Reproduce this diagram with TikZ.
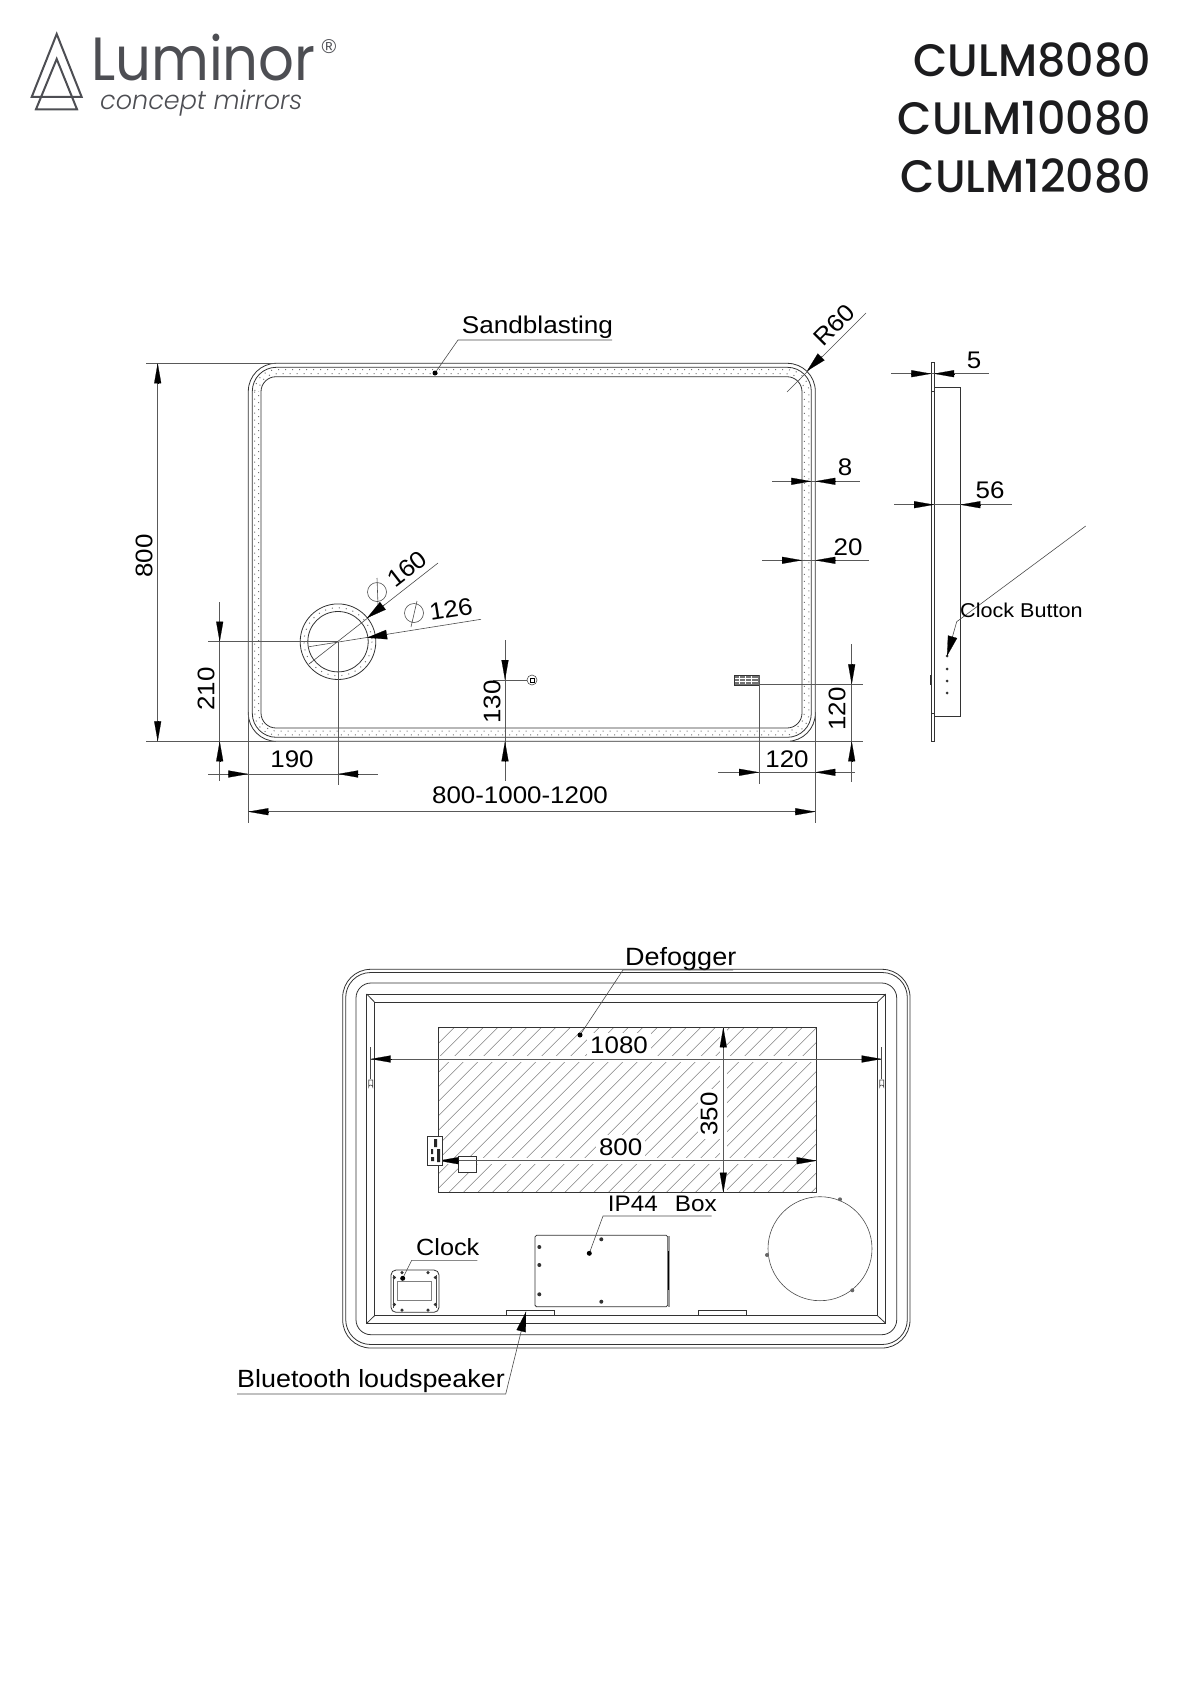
\documentclass[tikz,border=0pt]{standalone}
\usepackage{fontspec}
\setmainfont{Liberation Sans}
\newfontfamily\dimfont[FakeStretch=1.08]{Liberation Sans}
\newfontfamily\logofont[FakeStretch=0.92]{Poppins}
\newfontfamily\sublogofont[FakeStretch=0.98]{Poppins Light}
\newfontfamily\titlefont[FakeStretch=0.975]{Poppins Medium}
\usetikzlibrary{arrows.meta}
\definecolor{logogray}{HTML}{4D4E53}
\definecolor{titleblack}{HTML}{1C1C1E}
\tikzset{
  outline/.style={draw=black!80, line width=0.8pt},
  thinline/.style={draw=black!70, line width=0.6pt},
  dimline/.style={draw=black!65, line width=0.8pt},
  dimtip/.style={draw=black, line width=0.2pt, -{Triangle[length=20pt,width=7pt]}},
  leadtip/.style={draw=black, line width=0.2pt, -{Triangle[length=20pt,width=9.5pt]}},
  dimtext/.style={font=\dimfont\fontsize{24}{24}\selectfont, inner sep=0pt},
  calltext/.style={font=\dimfont\fontsize{#1}{#1}\selectfont, inner sep=0pt},
  sandband/.style={draw=black!55, line width=1pt, dash pattern=on 1pt off 6pt},
  hatchline/.style={draw=black!50, line width=0.6pt},
  screw/.style={circle, fill=black!80, minimum size=4pt, inner sep=0pt},
  calldot/.style={circle, fill=black, minimum size=5pt, inner sep=0pt},
  logotri/.style={draw=logogray, line width=2pt, line join=miter},
  titletext/.style={font=\titlefont\fontsize{45.5}{45.5}\selectfont, text=titleblack, anchor=base east, inner sep=0pt},
}
\begin{document}
\begin{tikzpicture}[x=1pt,y=-1pt]
\useasboundingbox (0,0) rectangle (1190,1683);

% logo
\draw[logotri] (56.7,34) -- (81.7,97) -- (31.7,97) -- cycle;
\draw[logotri] (56.7,59) -- (77,109.3) -- (36,109.3) -- cycle;
\node (logoname) [font=\logofont\fontsize{61}{61}\selectfont, text=logogray, anchor=base west, inner sep=0pt] at (91,81) {Luminor};
\node (logoreg) [font=\fontsize{20}{20}\selectfont, text=logogray, inner sep=0pt] at (329,46.7) {®};
\node (logosub) [font=\sublogofont\itshape\fontsize{26}{26}\selectfont, text=logogray, anchor=base west, inner sep=0pt] at (100,110) {concept mirrors};

% titles
\node (titlea) [titletext] at (1151,77) {CULM8080};
\node (titleb) [titletext] at (1151,134.5) {CULM10080};
\node (titlec) [titletext] at (1151,192.5) {CULM12080};

% front view
\draw[outline] (248.3,363.3) [rounded corners=28pt] rectangle (815.3,741.3);
\draw[outline] (252.3,367.3) [rounded corners=24pt] rectangle (811.3,737.3);
\draw[outline] (261,376.7) [rounded corners=15pt] rectangle (802,728);
\draw[sandband] (254.7,369.7) [rounded corners=22pt] rectangle (808.9,734.9);
\draw[sandband, dash phase=3.5pt] (258.7,373.7) [rounded corners=18pt] rectangle (804.3,731);
\draw[outline] (338,641.7) circle (37.8);
\draw[outline] (338,641.7) circle (30.2);
\draw[sandband] (338,641.7) circle (34);

% 800 height
\draw[dimline] (146,363.3) -- (276,363.3);
\draw[dimline] (146,741.3) -- (276,741.3);
\draw[dimline] (157.7,363.3) -- (157.7,741.3);
\draw[dimtip] (157.7,383.3) -- (157.7,363.3);
\draw[dimtip] (157.7,721.3) -- (157.7,741.3);
\node (lblheight) [dimtext, rotate=90] at (144,556) {800};

% 210
\draw[dimline] (208,641.7) -- (338,641.7);
\draw[dimline] (219.7,602) -- (219.7,781);
\draw[dimtip] (219.7,621.7) -- (219.7,641.7);
\draw[dimtip] (219.7,761.3) -- (219.7,741.3);
\node (lblcirc) [dimtext, rotate=90] at (206,689) {210};

% 190
\draw[dimline] (208,774) -- (378,774);
\draw[dimline] (338,641.7) -- (338,785);
\draw[dimtip] (228.3,774) -- (248.3,774);
\draw[dimtip] (358,774) -- (338,774);
\node (lblleft) [dimtext, anchor=base] at (292,767.7) {190};

% overall width
\draw[dimline] (248.3,712) -- (248.3,823);
\draw[dimline] (815.3,712) -- (815.3,823);
\draw[dimline] (248.3,811.7) -- (815.3,811.7);
\draw[dimtip] (268.3,811.7) -- (248.3,811.7);
\draw[dimtip] (795.3,811.7) -- (815.3,811.7);
\node (lblwidth) [dimtext, anchor=base] at (520,803) {800-1000-1200};

% circle leaders
\draw[thinline] (309,664) -- (438,563);
\draw[leadtip] (384.5,604.5) -- (367,618);
\draw[thinline] (377,578) -- (378,605) (377,592) circle (9.5);
\node (lblouter) [dimtext, rotate=38] at (407,569) {160};
\draw[thinline] (309,646.7) -- (481,619.3);
\draw[leadtip] (388,634.4) -- (367,637.7);
\draw[thinline] (417,601) -- (411,627) (414,613) circle (9.5);
\node (lblinner) [dimtext, rotate=9] at (451,609) {126};

% button
\draw[dimline] (493,680) -- (527,680);
\draw[thinline] (532,680) circle (5);
\draw[draw=black, line width=1pt] (530,678) rectangle (534,682);
\draw[dimline] (505,640) -- (505,781);
\draw[dimtip] (505,660) -- (505,680);
\draw[dimtip] (505,761.3) -- (505,741.3);
\node (lblbutton) [dimtext, rotate=90] at (492,702) {130};

% display
\draw[draw=black!80, fill=black!55, line width=0.6pt] (734,675) rectangle (759,685);
\foreach \gx in {739,745,751} {
  \draw[draw=white, line width=0.6pt] (\gx,676) -- (\gx,684);
}
\draw[draw=white, line width=0.6pt] (735,678.5) -- (758,678.5) (735,681.5) -- (758,681.5);
\draw[dimline] (759,684.3) -- (863,684.3);
\draw[dimline] (759,675) -- (759,784);
\draw[dimline] (790,741.3) -- (863,741.3);
\draw[dimline] (851.7,644) -- (851.7,781.7);
\draw[dimtip] (851.7,664.3) -- (851.7,684.3);
\draw[dimtip] (851.7,761.3) -- (851.7,741.3);
\node (lblvert) [dimtext, rotate=90] at (837,709) {120};
\draw[dimline] (718,772.3) -- (855,772.3);
\draw[dimtip] (739,772.3) -- (759,772.3);
\draw[dimtip] (835.3,772.3) -- (815.3,772.3);
\node (lblhoriz) [dimtext, anchor=base] at (787,767) {120};

% R60
\draw[thinline] (787,392) -- (866,313);
\draw[leadtip] (822,356) -- (807,371);
\node (lblradius) [dimtext, rotate=45] at (834,325) {R60};

% 8 and 20
\draw[dimline] (772,481.3) -- (860,481.3);
\draw[dimtip] (791.3,481.3) -- (811.3,481.3);
\draw[dimtip] (835.3,481.3) -- (815.3,481.3);
\node (lblglass) [dimtext] at (845,467) {8};
\draw[dimline] (762,560.3) -- (869,560.3);
\draw[dimtip] (782,560.3) -- (802,560.3);
\draw[dimtip] (835.3,560.3) -- (815.3,560.3);
\node (lblband) [dimtext] at (848,547) {20};

% sandblasting
\node (lblsand) [calltext=24.2, anchor=base west] at (461.7,333.3) {Sandblasting};
\coordinate (sandknee) at (458,340);
\node (sanddot) [calldot] at (435,373) {};
\draw[thinline] (612,340) -- (sandknee) -- (sanddot);

% side view
\draw[outline] (931.3,362.7) -- (931.3,741.7) -- (934,741.7) -- (934,362.7) -- cycle;
\draw[outline] (934,387.3) -- (960.3,387.3) -- (960.3,716.7) -- (934,716.7);
\draw[outline] (930,675) -- (930,685);
\draw[outline] (931.3,391.7) -- (934,391.7) (931.3,713) -- (934,713);
\draw[dimline] (891,373.7) -- (989,373.7);
\draw[dimtip] (911.3,373.7) -- (931.3,373.7);
\draw[dimtip] (954,373.7) -- (934,373.7);
\node (lblplate) [dimtext] at (974,360) {5};
\draw[dimline] (894,504.7) -- (1012,504.7);
\draw[dimtip] (914,504.7) -- (934,504.7);
\draw[dimtip] (980.3,504.7) -- (960.3,504.7);
\node (lbldepth) [dimtext] at (990,490.7) {56};
\foreach \by in {656,669,681,693} {
  \node (btn\by) [screw, minimum size=3pt] at (947,\by) {};
}
\coordinate (clockfree) at (1085.7,526);
\coordinate (clockknee) at (956.7,621.7);
\draw[thinline] (clockfree) -- (clockknee) -- (btn656);
\draw[leadtip] (952.5,637) -- (947,656);
\node (lblclockbtn) [calltext=20, anchor=base west] at (960,617) {Clock Button};

% back view
\draw[outline] (342.7,969.3) [rounded corners=28pt] rectangle (910,1348);
\draw[outline] (345.7,972.5) [rounded corners=25pt] rectangle (907.3,1344.5);
\draw[outline] (356,983) [rounded corners=15pt] rectangle (896.7,1334.7);
\draw[outline] (366.7,994) rectangle (885.7,1323.3);
\draw[outline] (374.7,1002.3) rectangle (877.3,1315.5);
\draw[outline] (366.7,994) -- (374.7,1002.3) (885.7,994) -- (877.3,1002.3);
\draw[outline] (366.7,1323.3) -- (374.7,1315.5) (885.7,1323.3) -- (877.3,1315.5);

% defogger hatching
\begin{scope}
  \clip (438.3,1027.3) rectangle (816.7,1192.7);
  \foreach \hx in {0,14.5,...,560} {
    \draw[hatchline] (\hx+260,1192.7) -- (\hx+425.4,1027.3);
  }
\end{scope}
\fill[white] (438.8,1056) rectangle (816.2,1062);
\fill[white] (438.8,1158) rectangle (816.2,1164);
\fill[white] (720,1028) rectangle (727,1192);
\draw[outline] (438.3,1027.3) rectangle (816.7,1192.7);

% hooks
\foreach \kx in {370.7,881.7} {
  \draw[thinline] (\kx,1047) -- (\kx,1079);
  \draw[thinline, fill=white] (\kx-2,1080) -- (\kx-2,1087) arc[start angle=180, end angle=360, radius=2] -- (\kx+2,1080) -- cycle;
}

% 1080
\draw[dimline] (370.7,1059) -- (881.7,1059);
\draw[dimtip] (391,1059) -- (370.7,1059);
\draw[dimtip] (861.7,1059) -- (881.7,1059);
\node (lblrail) [dimtext, anchor=base, fill=white, inner sep=3pt] at (619,1053) {1080};

% 800 and 350
\draw[outline, fill=white] (458.3,1156) rectangle (476,1172.3);
\draw[dimline] (459,1160.7) -- (816.7,1160.7);
\draw[dimtip] (459,1160.7) -- (438.3,1160.7);
\draw[dimtip] (796.7,1160.7) -- (816.7,1160.7);
\node (lblpad) [dimtext, anchor=base, fill=white, inner sep=3pt] at (620.7,1155) {800};
\draw[dimline] (723.3,1027.3) -- (723.3,1192.7);
\draw[dimtip] (723.3,1047.3) -- (723.3,1027.3);
\draw[dimtip] (723.3,1172.7) -- (723.3,1192.7);
\node (lblpadh) [dimtext, rotate=90, fill=white, inner sep=3pt] at (709,1114) {350};

% connector block
\draw[outline, fill=white] (427.7,1136.7) rectangle (442.7,1165.7);
\fill[black!85] (434,1139) rectangle (437,1147) (431,1149) rectangle (433,1154) (437,1149) rectangle (440,1162) (431,1157) rectangle (434,1161);

% defogger label
\node (lbldefog) [calltext=25, anchor=base west] at (625,965) {Defogger};
\coordinate (defogknee) at (623,970);
\node (defogdot) [calldot] at (580,1035) {};
\draw[thinline] (733,970) -- (defogknee) -- (defogdot);

% IP44 box
\draw[outline, rounded corners=1.5pt] (535,1235.3) rectangle (667.7,1306.7);
\draw[draw=black!40, line width=1.5pt] (669,1236) -- (669,1307);
\draw[draw=black, line width=1pt] (668.5,1251) -- (668.5,1290);
\node (ipa) [screw] at (539.3,1247) {};
\node (ipb) [screw] at (539.3,1265) {};
\node (ipc) [screw] at (539.3,1294.3) {};
\node (ipd) [screw] at (601.3,1239.3) {};
\node (ipe) [screw] at (601.3,1301.7) {};
\node (lblbox) [calltext=22.5, anchor=base west] at (607.7,1211) {IP44\hspace{17pt}Box};
\coordinate (boxknee) at (603,1216);
\node (boxdot) [calldot] at (589.3,1253.3) {};
\draw[thinline] (711.7,1216) -- (boxknee) -- (boxdot);

% clock
\draw[outline, rounded corners=5pt] (391,1270) rectangle (439,1312.3);
\draw[thinline] (393.5,1275) -- (393.5,1307.5) (436.5,1275) -- (436.5,1307.5);
\draw[draw=black!50, line width=1pt] (397.7,1281.7) rectangle (431.7,1300.7);
\foreach \sx/\sy [count=\si] in {394.3/1277.5,435.3/1277.5,394.3/1304.5,435.3/1304.5,402/1272.5,428/1272.5,402/1310,428/1310} {
  \node (clk\si) [screw, minimum size=3.5pt] at (\sx,\sy) {};
}
\draw[outline] (366.7,1275) -- (365.5,1275) (366.7,1287) -- (365.5,1287);
\node (lblclock) [calltext=23.4, anchor=base west] at (416,1255) {Clock};
\coordinate (clockuknee) at (411.7,1260.3);
\node (clockdot) [calldot] at (402.7,1278.3) {};
\draw[thinline] (477.3,1260.3) -- (clockuknee) -- (clockdot);

% speakers
\draw[outline] (506,1315.3) -- (506,1310) -- (554,1310) -- (554,1315.3);
\draw[outline] (698.3,1315.3) -- (698.3,1310) -- (746,1310) -- (746,1315.3);
\node (lblspeaker) [calltext=24.9, anchor=base west] at (237,1387.7) {Bluetooth loudspeaker};
\coordinate (speakknee) at (505.7,1394);
\coordinate (speaktip) at (526,1311.7);
\draw[thinline] (237,1394) -- (speakknee) -- (speaktip);
\draw[leadtip] (521,1331.7) -- (speaktip);

% round part
\draw[thinline] (820,1248.7) circle (52);
\node (rda) [screw, fill=black!60] at (840,1199.3) {};
\node (rdb) [screw, fill=black!60] at (767,1255) {};
\node (rdc) [screw, fill=black!60] at (852.3,1290.3) {};
\end{tikzpicture}
\end{document}
